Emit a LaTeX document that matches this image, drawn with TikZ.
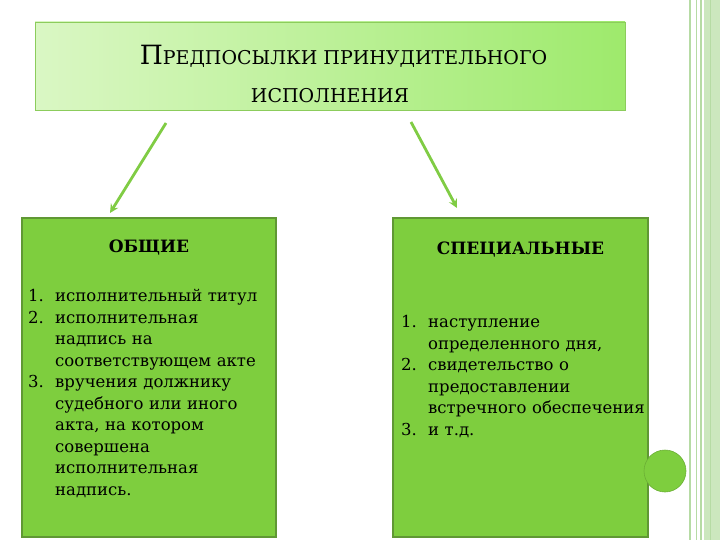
\documentclass[tikz,border=0pt]{standalone}
\usepackage{fontspec}
\setmainfont{DejaVu Serif}
\usepackage{enumitem}
\usepackage{tikz}
\usetikzlibrary{arrows,calc,positioning}
\definecolor{boxgreen}{RGB}{126,206,62}
\definecolor{boxline}{RGB}{96,152,52}
\definecolor{titlelight}{RGB}{218,247,196}
\definecolor{titledark}{RGB}{158,234,108}
\definecolor{titleline}{RGB}{140,204,92}
\definecolor{arrowgreen}{RGB}{128,204,68}
\definecolor{framegreen}{RGB}{204,231,190}
\definecolor{frameline}{RGB}{182,219,164}
\tikzstyle{titlebox} = [rectangle, minimum width=590pt, minimum height=88pt, text centered, align=center, draw=titleline, left color=titlelight, right color=titledark]
\tikzstyle{sidebox} = [rectangle, minimum width=254pt, minimum height=319pt, draw=boxline, line width=1.2pt, fill=boxgreen]
\tikzstyle{headtext} = [font=\fontsize{17}{20}\selectfont\bfseries, inner sep=0pt]
\tikzstyle{listtext} = [anchor=north west, inner sep=0pt, text width=250pt, font=\fontsize{16.5}{21.5}\selectfont, align=left]
\tikzstyle{arrow} = [line width=2.8pt, ->, >=stealth, arrowgreen]
\setlist[enumerate]{label=\arabic*., align=left, labelwidth=27pt, labelsep=0pt, leftmargin=27pt, itemsep=0pt, topsep=0pt, partopsep=0pt, parsep=0pt}

\begin{document}
\begin{tikzpicture}[x=1pt, y=-1pt]
\useasboundingbox (0,0) rectangle (720,540);

% frame on the right
\fill[framegreen] (704,0) rectangle (720,540);
\draw[frameline, line width=1.5pt] (690,0) -- (690,540);
\draw[frameline, line width=1pt] (696,0) -- (696,540);
\draw[frameline, line width=2pt] (700.5,0) -- (700.5,540);
\draw[frameline, line width=1pt] (710,0) -- (710,540);

\node (title) [titlebox] at (330,66) {\hspace*{27pt}\rule{0pt}{35pt}{\fontsize{26.5}{24}\selectfont П}{\fontsize{19}{24}\selectfont РЕДПОСЫЛКИ ПРИНУДИТЕЛЬНОГО}\\[20pt]
{\fontsize{19}{24}\selectfont ИСПОЛНЕНИЯ}};

\node (general) [sidebox] at (149,377.5) {};
\node (special) [sidebox, minimum width=255pt] at (520.5,377.5) {};
\node (dot) [circle, minimum size=42pt, fill=boxgreen, draw=boxgreen!85!black, line width=0.6pt] at (665,471) {};

\node (generalhead) [headtext] at (149,248) {ОБЩИЕ};
\node (specialhead) [headtext] at (520.5,250) {СПЕЦИАЛЬНЫЕ};

\node (generallist) [listtext] at (28,280) {%
\begin{enumerate}
\item исполнительный титул
\item исполнительная\newline надпись на\newline соответствующем акте
\item вручения должнику\newline судебного или иного\newline акта, на котором\newline совершена\newline исполнительная\newline надпись.
\end{enumerate}};
\node (speciallist) [listtext] at (401,306) {%
\begin{enumerate}
\item наступление\newline определенного дня,
\item свидетельство о\newline предоставлении\newline встречного обеспечения
\item и т.д.
\end{enumerate}};

\coordinate (lstart) at (166,123);
\coordinate (lend) at (110,213);
\coordinate (rstart) at (411,122);
\coordinate (rend) at (457,208);
\draw [arrow] (lstart) -- (lend);
\draw [arrow] (rstart) -- (rend);

\end{tikzpicture}
\end{document}
